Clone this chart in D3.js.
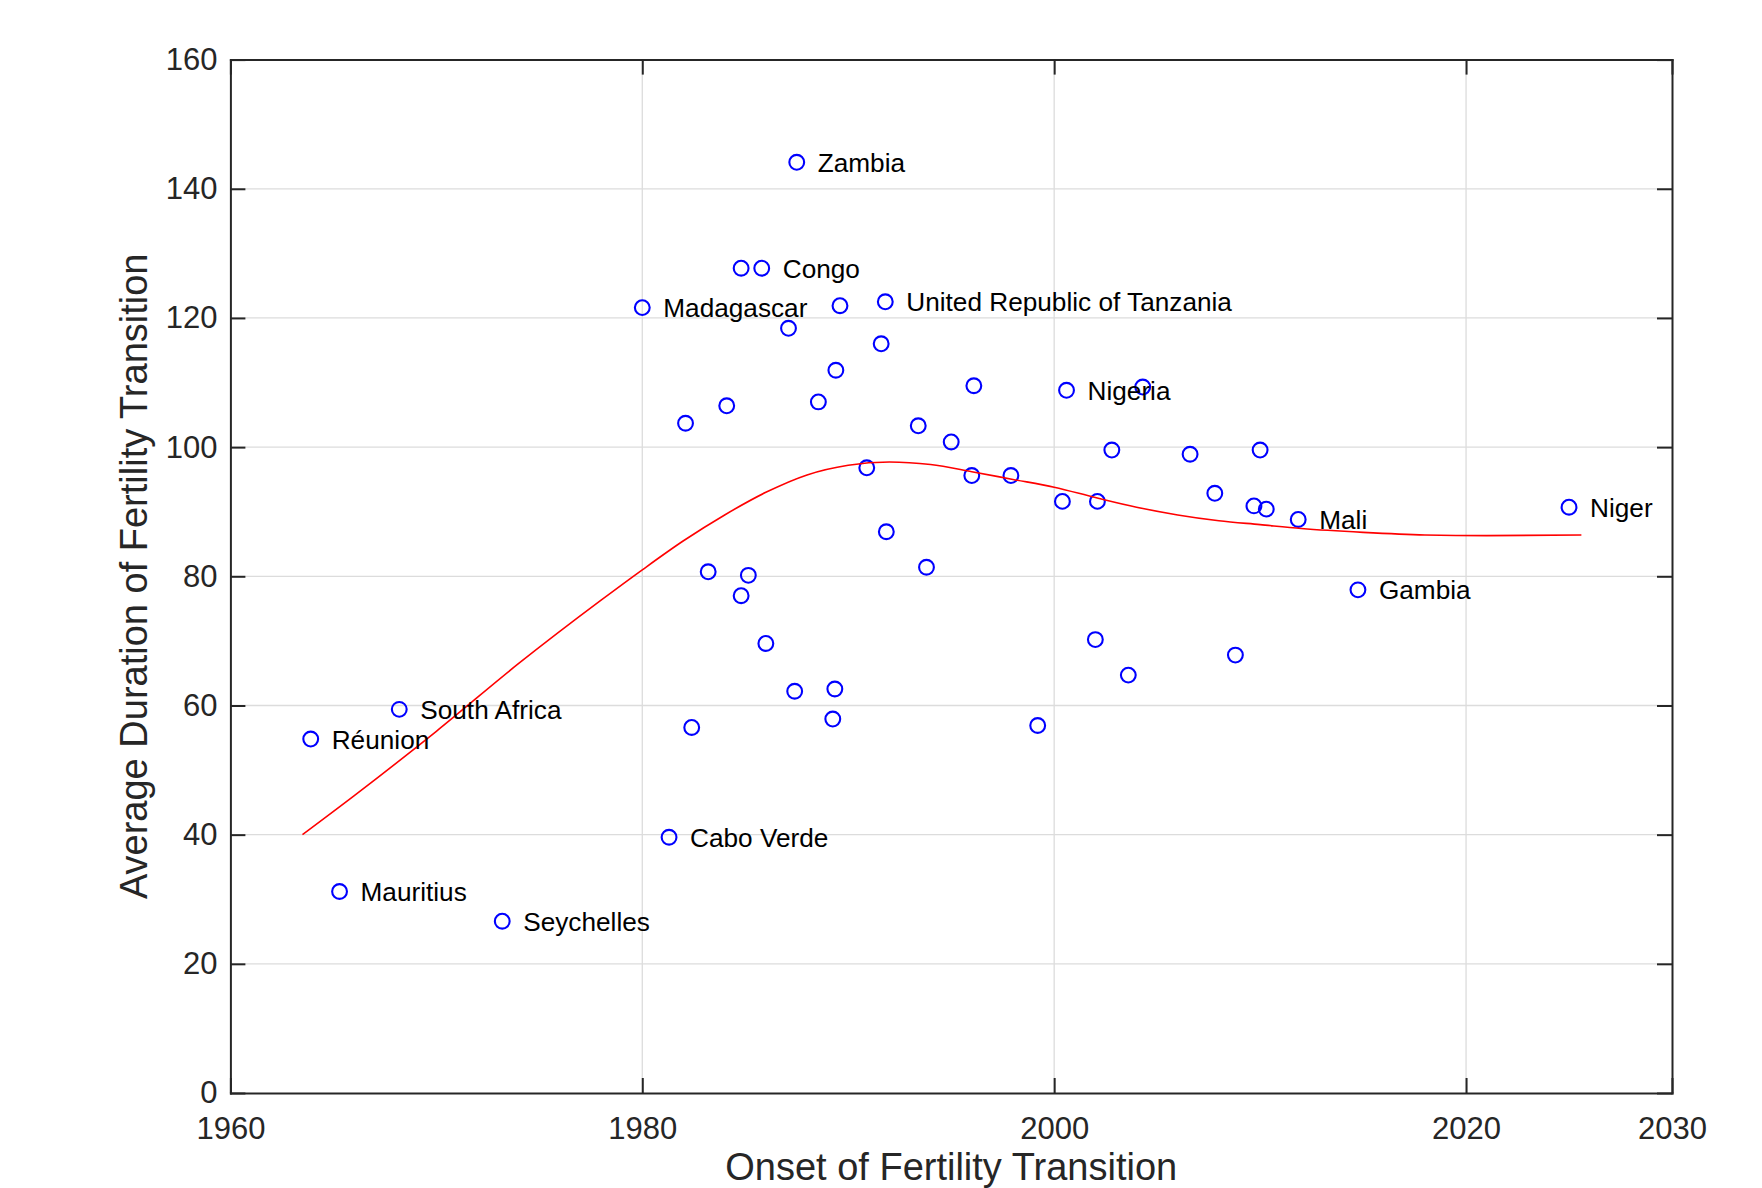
<!DOCTYPE html>
<html>
<head>
<meta charset="utf-8">
<script src="https://cdn.jsdelivr.net/npm/d3@7"></script>
<style>
body { margin: 0; background: #fff; }
svg { display: block; font-family: Arial, "Liberation Sans", Helvetica, sans-serif; }
</style>
</head>
<body>
<script>
// onset of transition (year) and average duration, one entry per country
let onsetYear = [1987.5, 1984.8, 1985.8, 1980.0, 1989.6, 1991.8, 1987.1, 1991.6, 1989.4, 1996.1,
  2000.6, 2004.3, 1988.55, 1984.1, 1982.1, 1993.4, 1995.0, 2002.8, 2006.6, 2010.0,
  1990.9, 1996.0, 1997.9, 2007.8, 2000.4, 2002.1, 2009.7, 2010.3, 2011.85, 2025.0,
  1991.85, 1993.8, 1983.2, 1985.15, 1984.8, 2014.75, 1986.0, 2002.0, 2008.8, 2003.6,
  1987.4, 1989.35, 1989.25, 1982.4, 1999.2, 1968.2, 1963.9, 1981.3, 1965.3, 1973.2];
let duration = [144.1, 127.7, 127.7, 121.6, 121.9, 122.5, 118.4, 116.0, 111.9, 109.5,
  108.8, 109.3, 107.0, 106.4, 103.7, 103.3, 100.8, 99.55, 98.9, 99.55,
  96.8, 95.6, 95.6, 92.85, 91.6, 91.6, 90.9, 90.4, 88.8, 90.7,
  86.9, 81.4, 80.7, 80.15, 77.0, 77.9, 69.6, 70.2, 67.8, 64.7,
  62.2, 62.55, 57.9, 56.6, 56.9, 59.4, 54.8, 39.6, 31.2, 26.6];
let countryName = ["Zambia", "", "Congo", "Madagascar", "", "United Republic of Tanzania", "", "", "", "",
  "Nigeria", "", "", "", "", "", "", "", "", "",
  "", "", "", "", "", "", "", "", "Mali", "Niger",
  "", "", "", "", "", "Gambia", "", "", "", "",
  "", "", "", "", "", "South Africa", "Réunion", "Cabo Verde", "Mauritius", "Seychelles"];

// fitted trend (red line)
let fitYear = [1963.5, 1966, 1970, 1974, 1978, 1980, 1982, 1984, 1986, 1988, 1990, 1992, 1994,
  1996, 1998, 2000, 2002, 2004, 2006, 2008, 2010, 2012, 2015, 2018, 2021, 2025.6];
let fitDuration = [40.0, 46.0, 56.0, 66.5, 76.3, 81.0, 85.5, 89.5, 93.0, 95.7, 97.2, 97.7, 97.3,
  96.2, 95.0, 93.8, 92.2, 90.7, 89.5, 88.6, 88.0, 87.4, 86.8, 86.4, 86.3, 86.4];

let xTicks = [1960, 1980, 2000, 2020, 2030];
let yTicks = [0, 20, 40, 60, 80, 100, 120, 140, 160];

let margin = {top: 59.6, right: 90, bottom: 95, left: 230.4},
  width = 1762 - margin.left - margin.right,
  height = 1188 - margin.top - margin.bottom;

let axisColor = "#262626";

let svg = d3.select("body").append("svg")
  .attr("width", 1762)
  .attr("height", 1188)
  .append("g")
  .attr("transform", "translate(" + margin.left + "," + margin.top + ")");

let x = d3.scaleLinear().domain([1960, 2030]).range([0, width]);
let y = d3.scaleLinear().domain([0, 160]).range([height, 0]);

// grid
svg.append("g").selectAll("line")
  .data(xTicks.filter(d => d > 1960 && d < 2030))
  .enter().append("line")
  .attr("x1", d => x(d)).attr("x2", d => x(d))
  .attr("y1", 0).attr("y2", height)
  .style("stroke", "#dcdcdc").style("stroke-width", 1.3);

svg.append("g").selectAll("line")
  .data(yTicks.filter(d => d > 0 && d < 160))
  .enter().append("line")
  .attr("x1", 0).attr("x2", width)
  .attr("y1", d => y(d)).attr("y2", d => y(d))
  .style("stroke", "#dcdcdc").style("stroke-width", 1.3);

let pts = onsetYear.map((d, i) => ({year: d, dur: duration[i], name: countryName[i]}));

svg.append("g").selectAll("circle")
  .data(pts)
  .enter().append("circle")
  .attr("cx", d => x(d.year))
  .attr("cy", d => y(d.dur))
  .attr("r", 7.4)
  .style("fill", "none")
  .style("stroke", "#0000ff")
  .style("stroke-width", 2.1);

let fitLine = d3.line()
  .x((d, i) => x(fitYear[i]))
  .y(d => y(d))
  .curve(d3.curveMonotoneX);

svg.append("path")
  .datum(fitDuration)
  .attr("d", fitLine)
  .style("fill", "none")
  .style("stroke", "#ff0000")
  .style("stroke-width", 1.6);

svg.append("g").selectAll("text")
  .data(pts.filter(d => d.name != ""))
  .enter().append("text")
  .attr("x", d => x(d.year) + 21)
  .attr("y", d => y(d.dur) + 9.5)
  .style("font-size", "26.2px")
  .style("fill", "#000")
  .text(d => d.name);

// axes, ticks pointing inward on all four sides
function styleAxis(g) {
  g.attr("font-family", null).attr("font-size", null);
  g.select(".domain").style("stroke", axisColor).style("stroke-width", 2).style("stroke-linecap", "square");
  g.selectAll(".tick line").style("stroke", axisColor).style("stroke-width", 2);
  g.selectAll(".tick text").style("font-size", "31px").style("fill", axisColor);
}

svg.append("g")
  .attr("transform", "translate(0," + height + ")")
  .call(d3.axisBottom(x).tickValues(xTicks).tickFormat(d3.format("d"))
    .tickSizeInner(-15).tickSizeOuter(0).tickPadding(24))
  .call(styleAxis);

svg.append("g")
  .call(d3.axisTop(x).tickValues(xTicks).tickFormat("")
    .tickSizeInner(-15).tickSizeOuter(0))
  .call(styleAxis);

svg.append("g")
  .call(d3.axisLeft(y).tickValues(yTicks)
    .tickSizeInner(-15).tickSizeOuter(0).tickPadding(13))
  .call(styleAxis);

svg.append("g")
  .attr("transform", "translate(" + width + ",0)")
  .call(d3.axisRight(y).tickValues(yTicks).tickFormat("")
    .tickSizeInner(-15).tickSizeOuter(0))
  .call(styleAxis);

svg.append("text")
  .attr("x", width / 2)
  .attr("y", 1180 - margin.top)
  .attr("text-anchor", "middle")
  .style("font-size", "38px")
  .style("fill", axisColor)
  .text("Onset of Fertility Transition");

svg.append("text")
  .attr("transform", "translate(" + (147 - margin.left) + "," + (height / 2) + ") rotate(-90)")
  .attr("text-anchor", "middle")
  .style("font-size", "38px")
  .style("fill", axisColor)
  .text("Average Duration of Fertility Transition");
</script>
</body>
</html>
